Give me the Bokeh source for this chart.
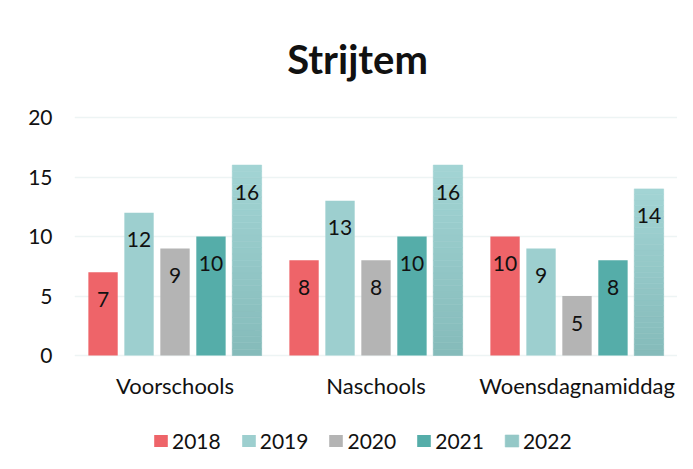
from bokeh.plotting import figure
from bokeh.models import (ColumnDataSource, FactorRange, Legend, LegendItem,
                          FixedTicker, Label)
from bokeh.transform import dodge
from bokeh.core.properties import value
from bokeh.embed import file_html
from bokeh.resources import INLINE

title_text = "Strijtem"
categories = ["Voorschools", "Naschools", "Woensdagnamiddag"]
years = ["2018", "2019", "2020", "2021", "2022"]
v2018 = [7, 8, 10]
v2019 = [12, 13, 9]
v2020 = [9, 8, 5]
v2021 = [10, 10, 8]
v2022 = [16, 16, 14]
series = [v2018, v2019, v2020, v2021, v2022]
y_ticks = [0, 5, 10, 15, 20]

colors = ["#EE6469", "#9DCFCF", "#B4B4B4", "#55ADA9"]
grad_top = (0xA3, 0xD4, 0xD4)
grad_bot = (0x84, 0xBB, 0xBA)

FONT = "Lato"
TXT = "#111111"
pitch = 0.179
bar_w = 0.146

# frame spans the whole canvas right of the y axis; 0..20 occupies px 117..355
px_per_unit = 238 / 20.0
y_lo = -(453 - 355) / px_per_unit
y_hi = 20 + 117 / px_per_unit

p = figure(x_range=FactorRange(factors=categories), y_range=(y_lo, y_hi),
           frame_width=603, frame_height=453, output_backend="svg",
           toolbar_location=None, x_axis_location=None,
           min_border_left=74, min_border_right=0, min_border_top=0,
           min_border_bottom=0)
p.outline_line_color = None
p.background_fill_color = "white"
p.border_fill_color = "white"

renderers = []
for j, (yr, vals) in enumerate(zip(years, series)):
    off = (j - 2) * pitch
    if j < 4:
        src = ColumnDataSource(dict(cat=categories, val=vals))
        r = p.vbar(x=dodge("cat", off, range=p.x_range), top="val", bottom=0,
                   width=bar_w, source=src, fill_color=colors[j], line_color=None)
        renderers.append((r, 0))
    else:
        # gradient bar: thin slices from bottom (dark) to top (light)
        N = 30
        cats, bots, tops, cols = [], [], [], []
        for c, v in zip(categories, vals):
            for k in range(N):
                t = (k + 0.5) / N
                rgb = tuple(int(round(grad_bot[i] + (grad_top[i] - grad_bot[i]) * t)) for i in range(3))
                cats.append(c)
                bots.append(v * k / N)
                tops.append(v * (k + 1) / N)
                cols.append("#%02X%02X%02X" % rgb)
        src = ColumnDataSource(dict(cat=cats, b=bots, t=tops, col=cols))
        r = p.vbar(x=dodge("cat", off, range=p.x_range), top="t", bottom="b",
                   width=bar_w, source=src, fill_color="col", line_color="col",
                   line_width=0.6)
        renderers.append((r, N // 2))
    lsrc = ColumnDataSource(dict(cat=categories, val=vals, txt=[str(v) for v in vals]))
    p.text(x=dodge("cat", off, range=p.x_range), y="val", text="txt", source=lsrc,
           text_align="center", text_baseline="middle", y_offset=27,
           text_font=value(FONT), text_font_size="21px", text_color=TXT)

# category labels under the baseline
csrc = ColumnDataSource(dict(cat=categories, y=[0] * len(categories)))
p.text(x="cat", y="y", text="cat", source=csrc, text_align="center",
       text_baseline="alphabetic", y_offset=30, text_font=value(FONT),
       text_font_size="22px", text_color=TXT)

# y axis
p.yaxis.ticker = FixedTicker(ticks=y_ticks)
p.yaxis.axis_line_color = None
p.yaxis.major_tick_line_color = None
p.yaxis.minor_tick_line_color = None
p.yaxis.major_tick_out = 0
p.yaxis.major_tick_in = 0
p.yaxis.major_label_standoff = 22
p.yaxis.major_label_text_font = FONT
p.yaxis.major_label_text_font_size = "21px"
p.yaxis.major_label_text_color = TXT

p.xgrid.grid_line_color = None
p.ygrid.grid_line_color = "#EDF4F4"
p.ygrid.grid_line_width = 1.5

# title
title = Label(x=1.408, y=20 + (117 - 58) / px_per_unit,
              text=title_text, text_align="center", text_baseline="alphabetic",
              text_font=FONT, text_font_style="bold", text_font_size="40px",
              text_color=TXT)
p.add_layout(title)

# legend
items = [LegendItem(label=yr, renderers=[r], index=idx) for yr, (r, idx) in zip(years, renderers)]
legend = Legend(items=items, orientation="horizontal", location=(78, 0),
                glyph_width=17, glyph_height=15, label_standoff=3, spacing=19,
                padding=0, margin=0, border_line_color=None,
                background_fill_alpha=0, label_text_font=FONT,
                label_text_font_size="21px", label_text_color=TXT)
p.add_layout(legend, "center")

open("out.html", "w").write(file_html(p, INLINE))
